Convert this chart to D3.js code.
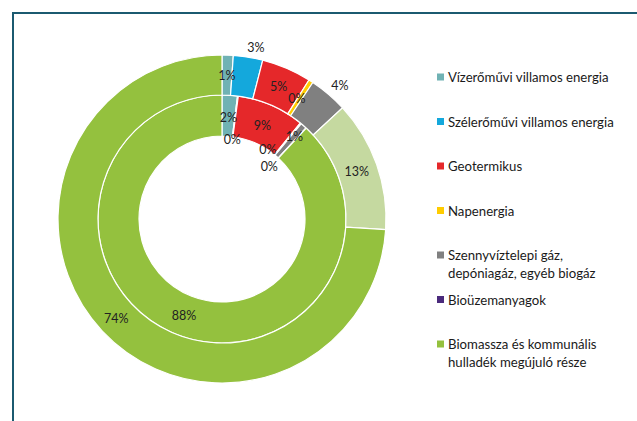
<!DOCTYPE html>
<html>
<head>
<meta charset="utf-8">
<script src="https://cdn.jsdelivr.net/npm/d3@7"></script>
<style>
  html, body { margin: 0; padding: 0; background: #fff; }
  svg { display: block; font-family: Lato, "Open Sans", sans-serif; }
</style>
</head>
<body>
<svg id="chart" width="637" height="421"></svg>
<script>
// ---- data ----
const categories = [
    'Vízerőművi villamos energia',
    'Szélerőművi villamos energia',
    'Geotermikus',
    'Napenergia',
    'Szennyvíztelepi gáz, depóniagáz, egyéb biogáz',
    'Bioüzemanyagok',
    'Biomassza és kommunális hulladék megújuló része'
];
const legendLines = [
    ['Vízerőművi villamos energia'],
    ['Szélerőművi villamos energia'],
    ['Geotermikus'],
    ['Napenergia'],
    ['Szennyvíztelepi gáz,', 'depóniagáz, egyéb biogáz'],
    ['Bioüzemanyagok'],
    ['Biomassza és kommunális', 'hulladék megújuló része']
];
const outerValues = [1.1, 2.9, 4.9, 0.45, 3.8, 12.9, 74.0];
const innerValues = [2.0, 0.1, 8.8, 0.15, 0.8, 0.05, 88.1];

// ---- style ----
const colors = ['#70b2b4', '#14a8dc', '#e5282a', '#ffcc00', '#808080', '#4a2a7c', '#94c13e'];
const outerOverride = { 5: '#c5d9a0' }; // outer ring biofuel slice drawn light green
const cx = 222, cy = 219;
const R = { hole: 83, mid: 124, outer: 164 };
// label polar placement: radius and angle nudge (deg)
const outerLabel = [[144, 0], [175, 2], [144, 0], [142, -1], [178, 1], [143, 0], [145, 0]];
const innerLabel = [[102, 0], [80, 0], [102, 0], [83, -6], [110, 0], [71, -1], [104, 0]];

const svg = d3.select('#chart');

// frame
svg.append('rect')
    .attr('x', 13).attr('y', 13)
    .attr('width', 700).attr('height', 500)
    .attr('fill', 'none')
    .attr('stroke', '#1b5a70')
    .attr('stroke-width', 2);

const pie = d3.pie().sort(null).value(d => d);
const g = svg.append('g').attr('transform', `translate(${cx},${cy})`);

function drawRing(values, r0, r1, labels, overrides) {
    const arcs = pie(values);
    const arc = d3.arc().innerRadius(r0).outerRadius(r1);
    g.append('g').selectAll('path')
        .data(arcs)
        .join('path')
        .attr('d', arc)
        .attr('fill', (d, i) => overrides[i] || colors[i])
        .attr('stroke', '#fff')
        .attr('stroke-width', 1.2);

    const total = d3.sum(values);
    g.append('g').selectAll('text')
        .data(arcs)
        .join('text')
        .attr('x', (d, i) => {
            const a = (d.startAngle + d.endAngle) / 2 + labels[i][1] * Math.PI / 180;
            return Math.sin(a) * labels[i][0];
        })
        .attr('y', (d, i) => {
            const a = (d.startAngle + d.endAngle) / 2 + labels[i][1] * Math.PI / 180;
            return -Math.cos(a) * labels[i][0];
        })
        .attr('text-anchor', 'middle')
        .attr('dominant-baseline', 'central')
        .attr('font-size', 12.5)
        .attr('fill', '#222')
        .text(d => Math.round(d.value / total * 100) + '%');
}

drawRing(innerValues, R.hole, R.mid, innerLabel, {});
drawRing(outerValues, R.mid, R.outer, outerLabel, outerOverride);

// legend
const legend = svg.append('g').attr('transform', 'translate(437,77)');
const item = legend.selectAll('g')
    .data(categories)
    .join('g')
    .attr('transform', (d, i) => `translate(0,${i * 44.5})`);

item.append('rect')
    .attr('x', 0).attr('y', -3.5)
    .attr('width', 7).attr('height', 7)
    .attr('fill', (d, i) => colors[i]);

item.append('text')
    .attr('x', 11)
    .attr('font-size', 13.2)
    .attr('fill', '#1a1a1a')
    .selectAll('tspan')
    .data((d, i) => legendLines[i])
    .join('tspan')
    .attr('x', 11)
    .attr('y', (d, j) => j * 18)
    .attr('dominant-baseline', 'central')
    .text(d => d);
</script>
</body>
</html>
